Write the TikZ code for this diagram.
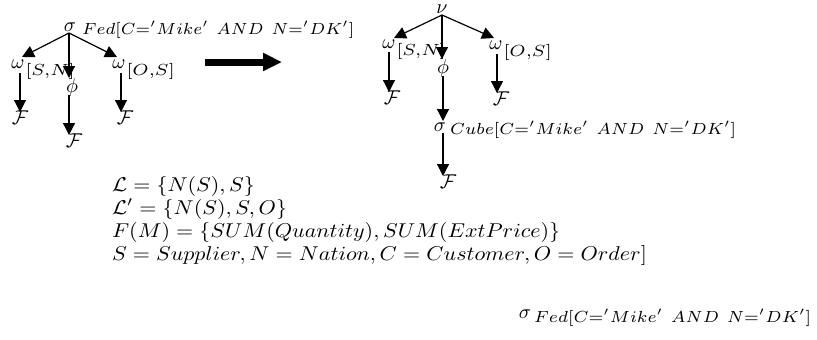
\documentclass[tikz,border=0pt]{standalone}
\usepackage{graphicx}
\usetikzlibrary{arrows.meta,calc}
\newcommand{\wsub}[1]{\scalebox{1.3}[1.15]{$\scriptstyle #1$}}
\newcommand{\condsub}[2]{\resizebox{#1}{1.15\height}{$\scriptstyle #2[C{=}'Mike'\ AND\ N{=}'DK']$}}
\newcommand{\txtline}[1]{\scalebox{1.1}[1]{$#1$}}
\begin{document}
\begin{tikzpicture}[x=0.5pt,y=-0.5pt,
  arr/.style={-{Triangle[length=6pt,width=6pt]},line width=0.6pt},
  bigarr/.style={-{Triangle[length=9.5pt,width=8.5pt]},line width=3.5pt},
  glyph/.style={inner sep=0pt,outer sep=0pt},
  sub/.style={inner sep=0pt,outer sep=0pt,anchor=base west},
  txt/.style={inner sep=0pt,outer sep=0pt,anchor=base west}]
\useasboundingbox (0,0) rectangle (817,339);

% ---------- left tree ----------
\node[glyph] (sA) at (70,27) {$\sigma$};
\node[sub] (sAsub) at ($(sA.base east)+(6,3)$) {\condsub{136pt}{Fed}};
\node[glyph] (wL) at (18,64) {$\omega$};
\node[sub] (wLsub) at ($(wL.base east)+(1,7)$) {\wsub{[S,N]}};
\node[glyph] (phL) at (72,87) {$\phi$};
\node[glyph] (wR) at (119,64) {$\omega$};
\node[sub] (wRsub) at ($(wR.base east)+(1,7)$) {\wsub{[O,S]}};
\node[glyph] (FL) at (20,118) {$\mathcal{F}$};
\node[glyph] (FM) at (74,141) {$\mathcal{F}$};
\node[glyph] (FR) at (125,118) {$\mathcal{F}$};

\draw[arr] ($(sA.center)+(-1,6)$) -- ($(wL.center)+(4,-7)$);
\draw[arr] ($(sA.center)+(-1,6)$) -- ($(phL.center)+(-3,-9)$);
\draw[arr] ($(sA.center)+(-1,6)$) -- ($(wR.center)+(-2,-7)$);
\draw[arr] ($(wL.center)+(2,9)$) -- ($(FL.center)+(0,-6)$);
\draw[arr] ($(phL.center)+(-3,8)$) -- ($(FM.center)+(-5,-6)$);
\draw[arr] ($(wR.center)+(2,9)$) -- ($(FR.center)+(-4,-6)$);

% ---------- big arrow ----------
\coordinate (ba) at (205,62);
\coordinate (bb) at (282,62);
\draw[bigarr] (ba) -- (bb);

% ---------- right tree ----------
\node[glyph] (nu) at (442,9) {$\nu$};
\node[glyph] (wL2) at (389,44) {$\omega$};
\node[sub] (wL2sub) at ($(wL2.base east)+(1,7)$) {\wsub{[S,N]}};
\node[glyph] (ph2) at (443,68) {$\phi$};
\node[glyph] (wR2) at (496,45) {$\omega$};
\node[sub] (wR2sub) at ($(wR2.base east)+(1,7)$) {\wsub{[O,S]}};
\node[glyph] (FL2) at (392,98) {$\mathcal{F}$};
\node[glyph] (FR2) at (501,99) {$\mathcal{F}$};
\node[glyph] (sC) at (440,127) {$\sigma$};
\node[sub] (sCsub) at ($(sC.base east)+(4,3)$) {\condsub{143pt}{Cube}};
\node[glyph] (FC) at (448,182) {$\mathcal{F}$};

\draw[arr] ($(nu.center)+(0,6)$) -- ($(wL2.center)+(5,-6)$);
\draw[arr] ($(nu.center)+(0,6)$) -- ($(ph2.center)+(-1,-9)$);
\draw[arr] ($(nu.center)+(0,6)$) -- ($(wR2.center)+(-2,-7)$);
\draw[arr] ($(wL2.center)+(0,8)$) -- ($(FL2.center)+(-3,-6)$);
\draw[arr] ($(wR2.center)+(1,9)$) -- ($(FR2.center)+(-4,-6)$);
\draw[arr] ($(ph2.center)+(0,8)$) -- ($(sC.center)+(3,-6)$);
\draw[arr] ($(sC.center)+(3,6)$) -- ($(FC.center)+(-5,-6)$);

% ---------- text block ----------
\node[txt] (t1) at (112,191) {\txtline{\mathcal{L} = \{N(S), S\}}};
\node[txt] (t2) at (112,214) {\txtline{\mathcal{L}' = \{N(S), S, O\}}};
\node[txt] (t3) at (112,237) {\txtline{F(M) = \{SUM(Quantity), SUM(ExtPrice)\}}};
\node[txt] (t4) at (112,260) {\txtline{S = Supplier, N = Nation, C = Customer, O = Order]}};

% ---------- bottom label ----------
\node[glyph] (sB) at (525,314) {$\sigma$};
\node[sub] (sBsub) at ($(sB.base east)+(3,4)$) {\condsub{138.5pt}{Fed}};
\end{tikzpicture}
\end{document}
